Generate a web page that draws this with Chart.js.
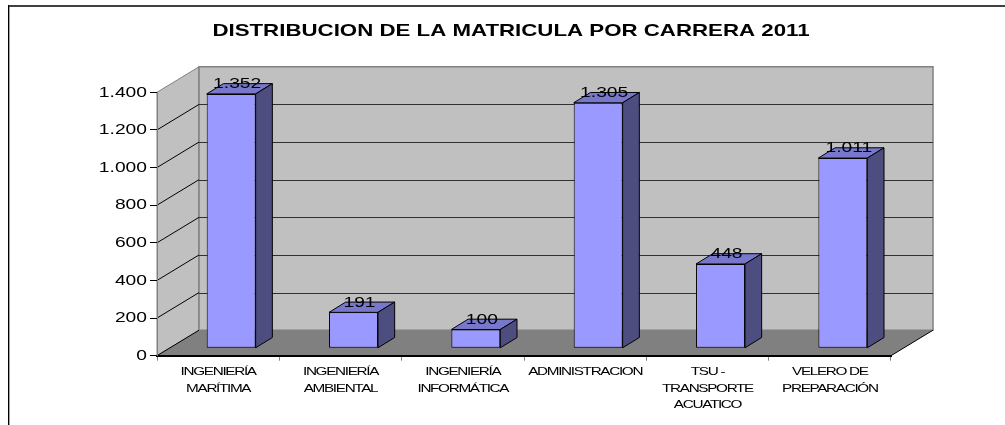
<!DOCTYPE html>
<html>
<head>
<meta charset="utf-8">
<style>html,body{margin:0;padding:0;background:#fff}#w{width:1005px;height:425px;position:relative}canvas{display:block}</style>
<script src="https://cdn.jsdelivr.net/npm/chart.js@4"></script>
</head>
<body>
<div id="w"><canvas id="c" width="1005" height="425"></canvas></div>
<script>
const titleText = 'DISTRIBUCION DE LA MATRICULA POR CARRERA 2011';
const categories = [
  ['INGENIERÍA', 'MARÍTIMA'],
  ['INGENIERÍA', 'AMBIENTAL'],
  ['INGENIERÍA', 'INFORMÁTICA'],
  ['ADMINISTRACION'],
  ['TSU -', 'TRANSPORTE', 'ACUATICO'],
  ['VELERO DE', 'PREPARACIÓN']
];
const matricula = [1352, 191, 100, 1305, 448, 1011];
const yMax = 1400;
const yStep = 200;

const FONT = '"Liberation Sans", Arial, sans-serif';
const fmt = v => String(v).replace(/\B(?=(\d{3})+$)/g, '.');
// 3D projection depth of the chart box and of the bars
const WALL = {dx: 42, dy: -25.5};
const BAR_SHIFT = {dx: 13, dy: -7.4};
const BAR_DEPTH = {dx: 16.7, dy: -10.3};
const TITLE_SHIFT = 37;

function poly(ctx, pts, fill, stroke, lw) {
  ctx.beginPath();
  pts.forEach((p, i) => i ? ctx.lineTo(p[0], p[1]) : ctx.moveTo(p[0], p[1]));
  ctx.closePath();
  if (fill) { ctx.fillStyle = fill; ctx.fill(); }
  if (stroke) { ctx.strokeStyle = stroke; ctx.lineWidth = lw || 1; ctx.stroke(); }
}

// Runs fn with every text glyph run widened horizontally about its anchor.
function withStretch(ctx, sx, spacing, fn, shift) {
  const proto = Object.getPrototypeOf(ctx).fillText;
  ctx.save();
  ctx.letterSpacing = spacing;
  ctx.fillText = function (t, x, y) {
    ctx.save();
    ctx.translate(x + (shift || 0), y);
    ctx.scale(sx, 1);
    proto.call(ctx, t, 0, 0);
    ctx.restore();
  };
  fn();
  delete ctx.fillText;
  ctx.restore();
}

const box3d = {
  id: 'box3d',
  beforeDraw(chart) {
    const ctx = chart.ctx, a = chart.chartArea;
    // outer frame
    ctx.save();
    ctx.fillStyle = '#404040'; ctx.fillRect(8, 5, 997, 2);
    ctx.fillStyle = '#000000'; ctx.fillRect(8, 5, 1, 420);
    ctx.fillStyle = '#a0a0a0'; ctx.fillRect(9, 7, 1, 418);
    const d = WALL, l = a.left, r = a.right, t = a.top, b = a.bottom;
    // side wall, back wall, floor
    poly(ctx, [[l,b],[l,t],[l+d.dx,t+d.dy],[l+d.dx,b+d.dy]], '#C0C0C0', '#808080');
    poly(ctx, [[l+d.dx,b+d.dy],[l+d.dx,t+d.dy],[r+d.dx,t+d.dy],[r+d.dx,b+d.dy]], '#C0C0C0', '#808080', 1.5);
    poly(ctx, [[l,b],[l+d.dx,b+d.dy],[r+d.dx,b+d.dy],[r,b]], '#808080');
    // gridlines from the value axis
    const y = chart.scales.y;
    y.ticks.forEach(tk => {
      if (tk.value === 0 || tk.value === yMax) return;
      const py = y.getPixelForValue(tk.value);
      ctx.strokeStyle = '#000'; ctx.lineWidth = 1;
      ctx.beginPath(); ctx.moveTo(l, py); ctx.lineTo(l + d.dx, py + d.dy); ctx.stroke();
      ctx.strokeStyle = '#303030'; ctx.lineWidth = 1.2;
      ctx.beginPath(); ctx.moveTo(l + d.dx, Math.round(py + d.dy) + .5); ctx.lineTo(r + d.dx, Math.round(py + d.dy) + .5); ctx.stroke();
    });
    ctx.strokeStyle = '#000'; ctx.lineWidth = 1;
    ctx.beginPath(); ctx.moveTo(l, b); ctx.lineTo(l + d.dx, b + d.dy); ctx.stroke();
    ctx.beginPath(); ctx.moveTo(r, b); ctx.lineTo(r + d.dx, b + d.dy); ctx.stroke();
    ctx.restore();
    // widened text, as in the reference
    const wrap = (o, method, sx, sp, shift) => {
      if (o['__w' + method]) return;
      o['__w' + method] = true;
      const orig = o[method].bind(o);
      o[method] = arg => withStretch(ctx, sx, sp, () => orig(arg), shift);
    };
    wrap(chart.scales.x, 'drawLabels', 1.33, '-1px');
    wrap(chart.scales.y, 'drawLabels', 1.25, '0px');
    wrap(chart.titleBlock, 'draw', 1.31, '0px', TITLE_SHIFT);
  },
  beforeDatasetsDraw(chart) {
    chart.ctx.save();
    chart.ctx.translate(BAR_SHIFT.dx, BAR_SHIFT.dy);
  },
  afterDatasetsDraw(chart) {
    const ctx = chart.ctx, d = BAR_DEPTH;
    chart.getDatasetMeta(0).data.forEach(bar => {
      const l = bar.x - bar.width / 2, r = bar.x + bar.width / 2, t = bar.y, b = bar.base;
      poly(ctx, [[l,t],[l+d.dx,t+d.dy],[r+d.dx,t+d.dy],[r,t]], '#7777CC', '#000', 1);
      poly(ctx, [[r,t],[r+d.dx,t+d.dy],[r+d.dx,b+d.dy],[r,b]], '#4D4D80', '#000', 1);
    });
    ctx.restore();
    // value labels
    ctx.save();
    ctx.font = '15.4px ' + FONT;
    ctx.fillStyle = '#000';
    ctx.textAlign = 'center';
    ctx.textBaseline = 'middle';
    withStretch(ctx, 1.25, '0px', () => {
      chart.getDatasetMeta(0).data.forEach((bar, i) => {
        ctx.fillText(fmt(matricula[i]), bar.x + BAR_SHIFT.dx + 6, bar.y + BAR_SHIFT.dy - 10);
      });
    });
    ctx.restore();
  }
};

new Chart(document.getElementById('c'), {
  type: 'bar',
  data: {
    labels: categories,
    datasets: [{
      data: matricula,
      backgroundColor: '#9999FF',
      borderColor: '#000000',
      borderWidth: 1,
      borderSkipped: false,
      barPercentage: 0.4,
      categoryPercentage: 1,
      clip: false
    }]
  },
  plugins: [box3d],
  options: {
    responsive: false,
    animation: false,
    layout: {padding: {left: 57, right: 114, top: 0, bottom: 9.3}},
    plugins: {
      legend: {display: false},
      tooltip: {enabled: false},
      title: {
        display: true,
        text: titleText,
        color: '#000',
        font: {family: FONT, size: 17, weight: 'bold', lineHeight: 1.2},
        padding: {top: 20.8, bottom: 51.1}
      }
    },
    scales: {
      x: {
        offset: true,
        afterFit: s => { s.height = 60; },
        grid: {display: true, drawOnChartArea: false, drawTicks: true, tickLength: 5, color: '#808080', offset: true},
        border: {display: true, color: '#000', width: 2},
        ticks: {color: '#000', font: {family: FONT, size: 11.5, lineHeight: 1.435}, maxRotation: 0, autoSkip: false, padding: 3}
      },
      y: {
        min: 0,
        max: yMax,
        afterFit: s => { s.width = 100; },
        grid: {display: true, drawOnChartArea: false, drawTicks: true, tickLength: 7, color: '#000'},
        border: {display: true, color: '#808080', width: 1},
        ticks: {color: '#000', stepSize: yStep, padding: 3, font: {family: FONT, size: 15.4}, callback: v => fmt(v)}
      }
    }
  }
});
</script>
</body>
</html>
